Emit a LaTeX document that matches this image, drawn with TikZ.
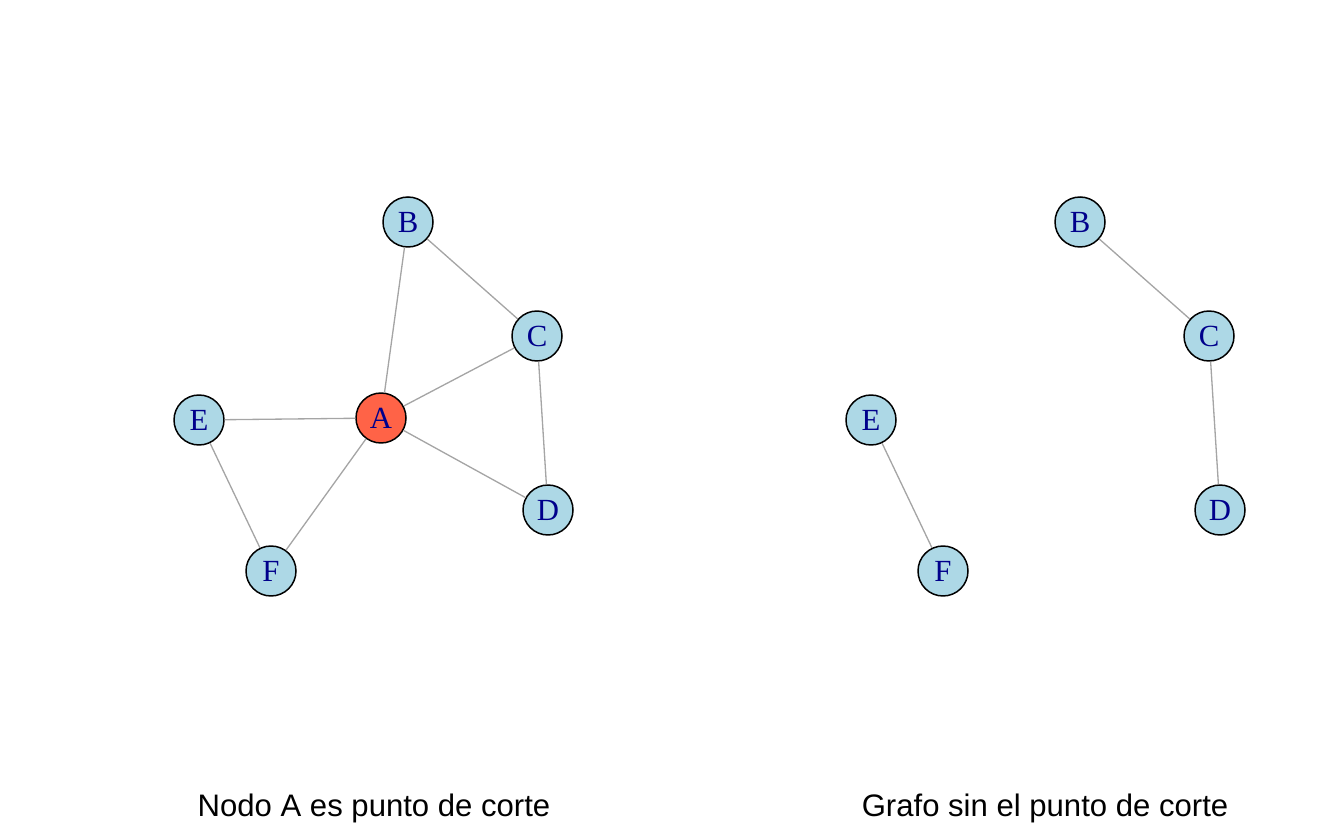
\documentclass[tikz,border=0pt]{standalone}
\usepackage{fontspec}
\setmainfont{Liberation Serif}
\setsansfont{Liberation Sans}
\usetikzlibrary{positioning}
\definecolor{vblue}{RGB}{173,216,230}
\definecolor{vtomato}{RGB}{255,99,71}
\definecolor{vlabel}{RGB}{0,0,139}
\definecolor{egray}{RGB}{165,165,165}

\tikzset{
  vert/.style={circle, draw=black, line width=0.85pt, fill=vblue, minimum size=1cm, inner sep=0pt, text=vlabel, font=\fontsize{17.5}{17.5}\selectfont},
  cutv/.style={vert, fill=vtomato},
  edge/.style={draw=egray, line width=0.75pt},
  caption/.style={font=\sffamily\fontsize{17.7}{18}\selectfont}
}

\begin{document}
\begin{tikzpicture}[x=0.02cm, y=-0.02cm]
  \useasboundingbox (0,0) rectangle (1344,830);

  % left graph
  \node[vert] (b) at (408,222) {B};
  \node[vert] (c) at (537,336) {C};
  \node[cutv] (a) at (381,418) {A};
  \node[vert] (e) at (199,420) {E};
  \node[vert] (d) at (548,510) {D};
  \node[vert] (f) at (271,571) {F};

  \draw[edge] (a) -- (b);
  \draw[edge] (a) -- (c);
  \draw[edge] (a) -- (d);
  \draw[edge] (a) -- (e);
  \draw[edge] (a) -- (f);
  \draw[edge] (b) -- (c);
  \draw[edge] (c) -- (d);
  \draw[edge] (e) -- (f);

  % right graph
  \node[vert] (b2) at (1080,222) {B};
  \node[vert] (c2) at (1209,336) {C};
  \node[vert] (e2) at (871,420) {E};
  \node[vert] (d2) at (1220,510) {D};
  \node[vert] (f2) at (943,571) {F};

  \draw[edge] (b2) -- (c2);
  \draw[edge] (c2) -- (d2);
  \draw[edge] (e2) -- (f2);

  \node[caption] (cap1) at (374,808) {Nodo A es punto de corte};
  \node[caption] (cap2) at (1045,808) {Grafo sin el punto de corte};
\end{tikzpicture}
\end{document}
